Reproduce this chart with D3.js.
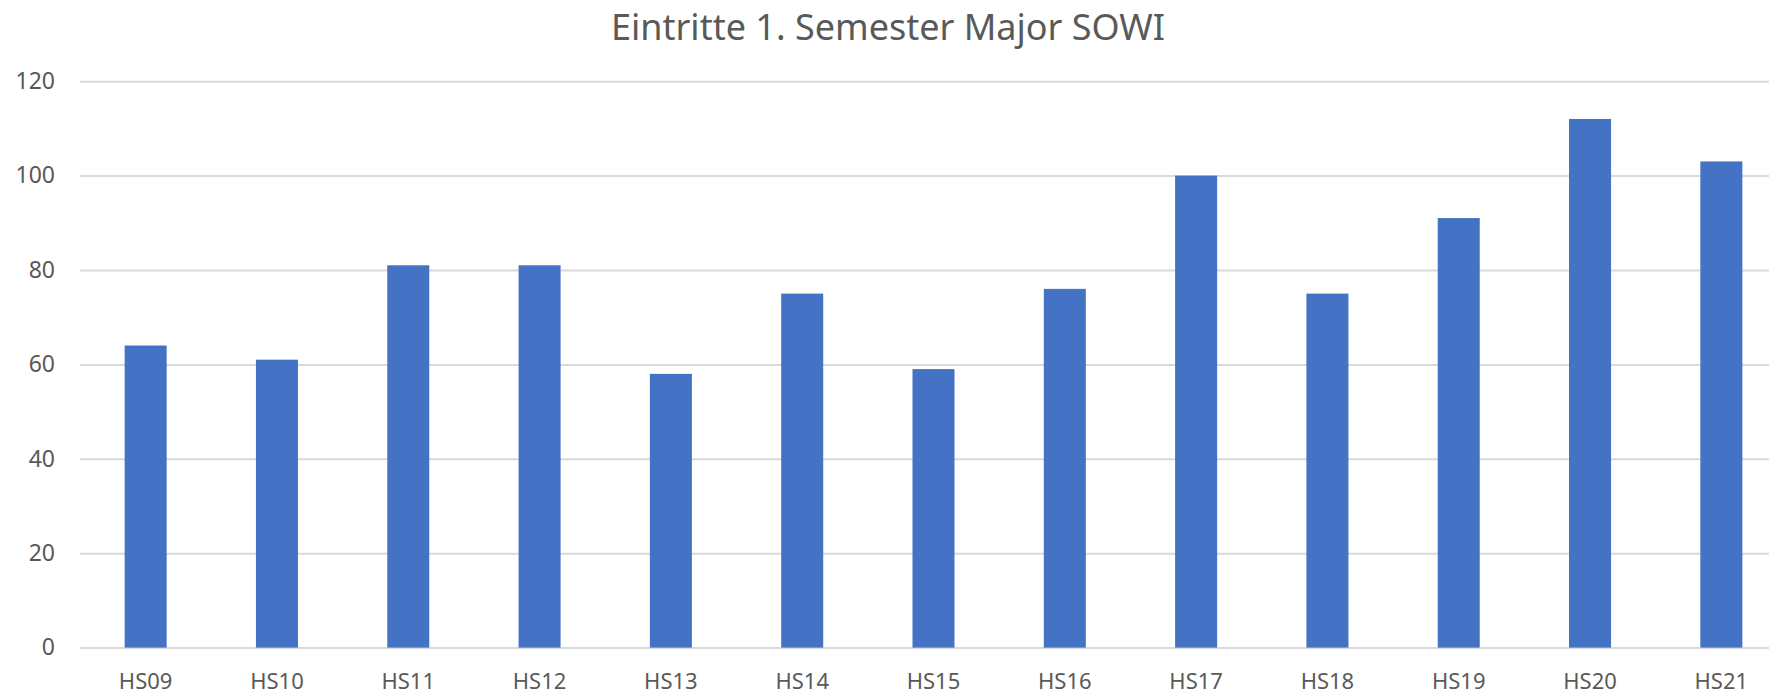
<!DOCTYPE html>
<html>
<head>
<meta charset="utf-8">
<script src="https://cdn.jsdelivr.net/npm/d3@7"></script>
<style>
  html, body { margin: 0; padding: 0; background: #fff; }
  svg { display: block; }
</style>
</head>
<body>
<svg id="chart" width="1769" height="696"></svg>
<script>
const title = "Eintritte 1. Semester Major SOWI";
const categories = ["HS09","HS10","HS11","HS12","HS13","HS14","HS15","HS16","HS17","HS18","HS19","HS20","HS21"];
const values = [64, 61, 81, 81, 58, 75, 59, 76, 100, 75, 91, 112, 103];
const yTicks = [0, 20, 40, 60, 80, 100, 120];

const svg = d3.select("#chart");
const font = "'Noto Sans', 'Open Sans', sans-serif";
const textColor = "#595959";

const plot = { left: 80, right: 1787, top: 81.2, bottom: 647.6 };

const x = d3.scaleBand()
  .domain(categories)
  .range([plot.left, plot.right])
  .paddingInner(0.68)
  .paddingOuter(0.34);

const y = d3.scaleLinear()
  .domain([0, 120])
  .range([plot.bottom, plot.top]);

// Gridlines + y labels
const yAxis = d3.axisLeft(y)
  .tickValues(yTicks)
  .tickSize(-(plot.right - plot.left))
  .tickPadding(25)
  .tickFormat(d3.format("d"));

const gy = svg.append("g")
  .attr("transform", `translate(${plot.left},0)`)
  .call(yAxis);
gy.select(".domain").remove();
gy.selectAll(".tick line").attr("stroke", "#d9d9d9").attr("stroke-width", 2);
gy.selectAll(".tick text")
  .attr("fill", textColor)
  .style("font-family", font)
  .style("font-size", "23px");

// Bars
svg.append("g")
  .selectAll("rect")
  .data(values)
  .join("rect")
  .attr("x", (d, i) => x(categories[i]))
  .attr("width", x.bandwidth())
  .attr("y", d => y(d))
  .attr("height", d => y(0) - y(d))
  .attr("fill", "#4472C4");

// X axis labels
const xAxis = d3.axisBottom(x).tickSize(0).tickPadding(26);
const gx = svg.append("g")
  .attr("transform", `translate(0,${plot.bottom})`)
  .call(xAxis);
gx.select(".domain").remove();
gx.selectAll(".tick text")
  .attr("fill", textColor)
  .style("font-family", font)
  .style("font-size", "22px");

// Title
svg.append("text")
  .attr("x", 888)
  .attr("y", 40)
  .attr("text-anchor", "middle")
  .attr("fill", textColor)
  .style("font-family", font)
  .style("font-size", "36px")
  .text(title);
</script>
</body>
</html>
